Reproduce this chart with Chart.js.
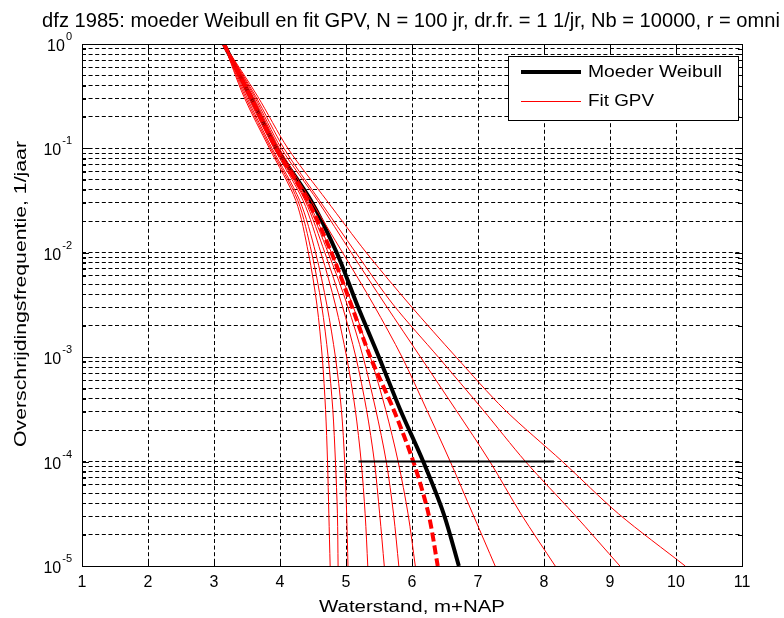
<!DOCTYPE html>
<html>
<head>
<meta charset="utf-8">
<script src="https://cdn.jsdelivr.net/npm/chart.js@4.4.0/dist/chart.umd.min.js"></script>
<style>
  html, body { margin: 0; padding: 0; background: #fff; }
</style>
</head>
<body>
<canvas id="gpv-chart" width="784" height="618"></canvas>
<script>
/*-----------------------------
Data: exceedance frequency levels (1/jaar) and the water level (m+NAP)
of each curve at those levels
------------------------------*/
const freqLevels = [1, 0.316, 0.1, 0.0316, 0.01, 0.00316, 0.001, 3.16e-4, 1e-4, 3.16e-5, 1e-5];

const weibull = [3.15, 3.55, 3.95, 4.47, 4.86, 5.17, 5.50, 5.82, 6.17, 6.48, 6.71];
const gpvMean = [3.15, 3.55, 3.94, 4.42, 4.78, 5.08, 5.37, 5.72, 6.02, 6.25, 6.39];

const gpvFits = [
  [3.15, 3.45, 3.84, 4.24, 4.43, 4.56, 4.64, 4.69, 4.72, 4.74, 4.76],
  [3.15, 3.47, 3.86, 4.27, 4.48, 4.63, 4.73, 4.80, 4.84, 4.87, 4.88],
  [3.15, 3.49, 3.88, 4.30, 4.54, 4.71, 4.84, 4.93, 4.98, 5.01, 5.03],
  [3.15, 3.51, 3.91, 4.35, 4.62, 4.84, 5.01, 5.14, 5.23, 5.29, 5.33],
  [3.15, 3.53, 3.93, 4.38, 4.68, 4.94, 5.15, 5.31, 5.43, 5.51, 5.58],
  [3.15, 3.55, 3.95, 4.40, 4.73, 5.02, 5.26, 5.45, 5.61, 5.72, 5.80],
  [3.15, 3.57, 3.97, 4.42, 4.78, 5.10, 5.37, 5.60, 5.79, 5.94, 6.05],
  [3.15, 3.59, 3.99, 4.47, 4.95, 5.42, 5.85, 6.22, 6.58, 6.92, 7.26],
  [3.15, 3.61, 4.02, 4.57, 5.08, 5.60, 6.13, 6.66, 7.18, 7.65, 8.17],
  [3.15, 3.63, 4.06, 4.60, 5.15, 5.72, 6.40, 7.07, 7.72, 8.45, 9.15],
  [3.15, 3.66, 4.12, 4.71, 5.31, 5.97, 6.67, 7.40, 8.28, 9.13, 10.14]
];

// horizontal reference at the 1/10000 level
const refLevel = 1e-4;
const refRange = [5.19, 8.15];

const xTicks = [1, 2, 3, 4, 5, 6, 7, 8, 9, 10, 11];
const yDecades = [0, -1, -2, -3, -4, -5];

const titleText = 'dfz 1985: moeder Weibull en fit GPV, N = 100 jr, dr.fr. = 1 1/jr, Nb = 10000, r = omni';
const xTitle = 'Waterstand, m+NAP';
const yTitle = 'Overschrijdingsfrequentie, 1/jaar';
const legendNames = ['Moeder Weibull', 'Fit GPV'];

const fontFam = '"Liberation Sans", Arial, sans-serif';

function toPoints(xs) {
  return xs.map((v, i) => ({x: v, y: freqLevels[i]}));
}

// text drawn at a given font size and stretched sideways to a given width
function wideText(ctx, text, x, y, size, width, align) {
  ctx.font = size + 'px ' + fontFam;
  const w = ctx.measureText(text).width;
  const sx = width / w;
  ctx.save();
  ctx.translate(x, y);
  ctx.scale(sx, 1);
  ctx.textAlign = align;
  ctx.fillText(text, 0, 0);
  ctx.restore();
}

//----------------------------------------
// Datasets
//----------------------------------------
const datasets = [];

datasets.push({
  data: toPoints(weibull),
  borderColor: '#000',
  borderWidth: 4,
  order: 20
});

gpvFits.forEach(xs => {
  datasets.push({
    data: toPoints(xs),
    borderColor: '#ff0000',
    borderWidth: 1,
    order: 10
  });
});

datasets.push({
  data: toPoints(gpvMean),
  borderColor: '#ff0000',
  borderWidth: 4,
  borderDash: [9, 4],
  order: 5
});

datasets.push({
  data: refRange.map(v => ({x: v, y: refLevel})),
  borderColor: '#000',
  borderWidth: 2,
  tension: 0,
  order: 4
});

//----------------------------------------
// Axes box, tick marks, labels, title and legend
//----------------------------------------
const decor = {
  id: 'decor',
  afterDatasetsDraw(chart) {
    const {ctx, chartArea: a, scales: {x, y}} = chart;
    ctx.save();
    ctx.strokeStyle = '#000';
    ctx.lineWidth = 1;
    ctx.setLineDash([]);

    // inner tick marks
    ctx.beginPath();
    xTicks.forEach(v => {
      const px = Math.round(x.getPixelForValue(v)) + 0.5;
      ctx.moveTo(px, a.bottom); ctx.lineTo(px, a.bottom - 7);
      ctx.moveTo(px, a.top); ctx.lineTo(px, a.top + 7);
    });
    y.ticks.forEach(t => {
      const py = Math.round(y.getPixelForValue(t.value)) + 0.5;
      const major = Math.abs(Math.log10(t.value) % 1) < 1e-9;
      const len = major ? 7 : 4;
      ctx.moveTo(a.left, py); ctx.lineTo(a.left + len, py);
      ctx.moveTo(a.right, py); ctx.lineTo(a.right - len, py);
    });
    ctx.stroke();

    ctx.strokeRect(Math.round(a.left) + 0.5, Math.round(a.top) + 0.5,
      Math.round(a.right - a.left), Math.round(a.bottom - a.top));

    // legend
    const lx = 508, ly = 56, lw = 230, lh = 64;
    ctx.fillStyle = '#fff';
    ctx.fillRect(lx, ly, lw, lh);
    ctx.strokeRect(lx + 0.5, ly + 0.5, lw, lh);
    ctx.beginPath();
    ctx.lineWidth = 4;
    ctx.strokeStyle = '#000';
    ctx.moveTo(521, 72); ctx.lineTo(581, 72);
    ctx.stroke();
    ctx.beginPath();
    ctx.lineWidth = 1;
    ctx.strokeStyle = '#ff0000';
    ctx.moveTo(521, 101.5); ctx.lineTo(581, 101.5);
    ctx.stroke();
    ctx.fillStyle = '#000';
    ctx.textBaseline = 'middle';
    wideText(ctx, legendNames[0], 588, 73, 16, 134, 'left');
    wideText(ctx, legendNames[1], 588, 102, 16, 66, 'left');

    // x tick labels
    ctx.font = '16px ' + fontFam;
    ctx.textAlign = 'center';
    ctx.textBaseline = 'top';
    xTicks.forEach(v => ctx.fillText(String(v), x.getPixelForValue(v), a.bottom + 9));

    // y tick labels as 10 with a raised exponent
    yDecades.forEach(k => {
      const py = y.getPixelForValue(Math.pow(10, k));
      ctx.font = '11px ' + fontFam;
      const ew = ctx.measureText(String(k)).width;
      ctx.textAlign = 'left';
      ctx.textBaseline = 'alphabetic';
      ctx.fillText(String(k), a.left - 10 - ew, py - 4);
      ctx.font = '16px ' + fontFam;
      ctx.textAlign = 'right';
      ctx.fillText('10', a.left - 11 - ew, py + 7);
    });

    // axis titles
    ctx.textBaseline = 'alphabetic';
    wideText(ctx, xTitle, (a.left + a.right) / 2, 612, 16, 186, 'center');
    ctx.save();
    ctx.translate(26, 294);
    ctx.rotate(-Math.PI / 2);
    wideText(ctx, yTitle, 0, 0, 16, 306, 'center');
    ctx.restore();

    // title, sized to its width
    ctx.font = '16px ' + fontFam;
    const tw = ctx.measureText(titleText).width;
    const size = 16 * 738 / tw;
    ctx.font = size.toFixed(2) + 'px ' + fontFam;
    ctx.textAlign = 'center';
    ctx.fillText(titleText, 411, 27);

    ctx.restore();
  }
};

new Chart(document.getElementById('gpv-chart'), {
  type: 'line',
  data: { datasets },
  plugins: [decor],
  options: {
    responsive: false,
    devicePixelRatio: 1,
    animation: false,
    events: [],
    layout: { padding: { left: 82, right: 42, top: 44, bottom: 52 } },
    elements: {
      point: { radius: 0 },
      line: { tension: 0.3, fill: false }
    },
    plugins: {
      legend: { display: false },
      tooltip: { enabled: false },
      title: { display: false }
    },
    scales: {
      x: {
        type: 'linear',
        min: 1,
        max: 11,
        ticks: { display: false, stepSize: 1 },
        grid: { color: '#000', lineWidth: 1, drawTicks: false, tickLength: 0 },
        border: { display: false, dash: [4, 2.6] }
      },
      y: {
        type: 'logarithmic',
        min: 1e-5,
        max: 1,
        afterBuildTicks(scale) {
          const ticks = [];
          for (let k = -5; k < 0; k++) {
            for (let m = 1; m < 10; m++) ticks.push({value: m * Math.pow(10, k)});
          }
          ticks.push({value: 1});
          scale.ticks = ticks;
        },
        ticks: { display: false },
        grid: { color: '#000', lineWidth: 1, drawTicks: false, tickLength: 0 },
        border: { display: false, dash: [4, 2.6] }
      }
    }
  }
});
</script>
</body>
</html>
